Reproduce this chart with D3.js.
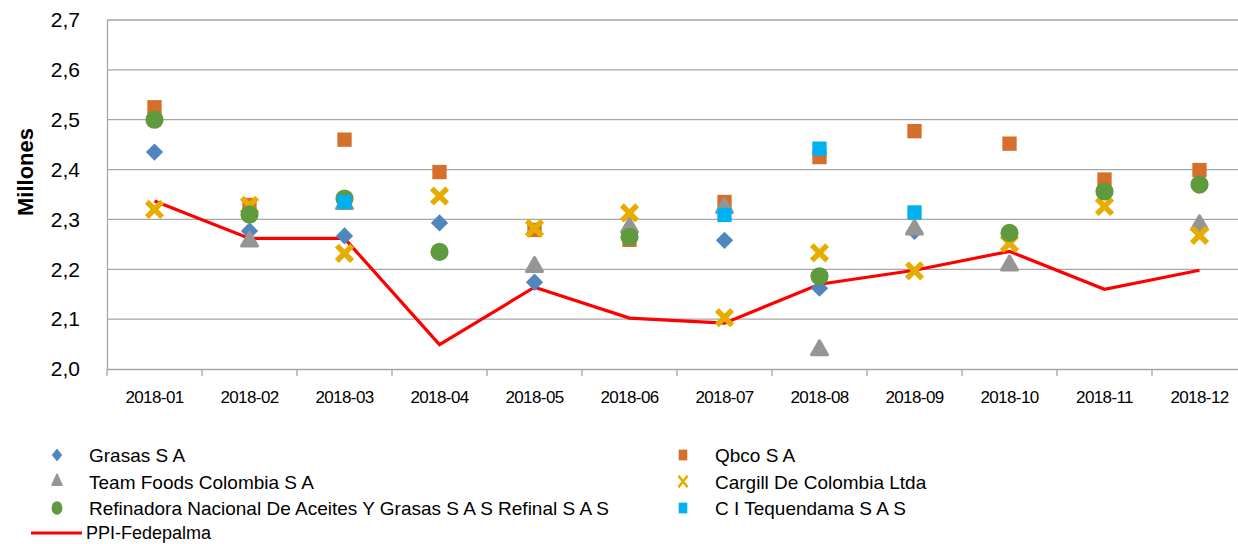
<!DOCTYPE html>
<html>
<head>
<meta charset="utf-8">
<script src="https://cdn.jsdelivr.net/npm/d3@7"></script>
<style>
  body { margin: 0; background: #fff; }
  svg { display: block; font-family: 'Liberation Sans', Arial, sans-serif; }
  .grid line { stroke: #a6a6a6; stroke-width: 1.3; }
</style>
</head>
<body>
<svg id="chart" width="1238" height="544"></svg>
<script>
// months on the x axis
const months = ['2018-01', '2018-02', '2018-03', '2018-04', '2018-05', '2018-06',
  '2018-07', '2018-08', '2018-09', '2018-10', '2018-11', '2018-12'];
const yTicks = [2.0, 2.1, 2.2, 2.3, 2.4, 2.5, 2.6, 2.7];

// values in millions, null = no marker that month
const grasas = [2.435, 2.277, 2.267, 2.293, 2.174, null, 2.258, 2.162, 2.276, null, 2.362, 2.282];
const qbco = [2.525, 2.329, 2.460, 2.395, 2.279, 2.259, 2.335, 2.425, 2.477, 2.452, 2.380, 2.399];
const teamFoods = [null, 2.256, 2.331, null, 2.205, 2.284, 2.323, 2.038, 2.280, 2.208, null, 2.289];
const cargill = [2.320, 2.328, 2.232, 2.347, 2.282, 2.313, 2.103, 2.233, 2.197, 2.252, 2.326, 2.268];
const refinal = [2.500, 2.310, 2.342, 2.235, null, 2.265, null, 2.186, null, 2.273, 2.356, 2.370];
const tequendama = [null, null, 2.335, null, null, null, 2.309, 2.442, 2.314, null, null, null];
const ppi = [2.337, 2.262, 2.262, 2.049, 2.164, 2.102, 2.092, 2.170, 2.198, 2.236, 2.160, 2.198];

const series = [
  { name: 'Grasas S A', values: grasas, shape: 'diamond', color: '#4f86bd' },
  { name: 'Qbco S A', values: qbco, shape: 'square', color: '#d56f2b' },
  { name: 'Team Foods Colombia S A', values: teamFoods, shape: 'triangle', color: '#959595' },
  { name: 'Cargill De Colombia Ltda', values: cargill, shape: 'cross', color: '#e6ad00' },
  { name: 'Refinadora Nacional De Aceites Y Grasas S A S Refinal S A S', values: refinal, shape: 'circle', color: '#5f9a3d' },
  { name: 'C I Tequendama S A S', values: tequendama, shape: 'square', color: '#00b0f0' }
];

const svg = d3.select('#chart');
const x = d3.scaleBand().domain(months).range([107, 1247]);
const y = d3.scaleLinear().domain([2.0, 2.7]).range([369, 20]);
const fmt = d => d3.format('.1f')(d).replace('.', ',');

// gridlines
svg.append('g').attr('class', 'grid')
  .selectAll('line').data(yTicks.slice(1)).join('line')
  .attr('x1', 107).attr('x2', 1247)
  .attr('y1', d => y(d)).attr('y2', d => y(d));

// y axis
const yAxis = svg.append('g').attr('transform', 'translate(107,0)')
  .call(d3.axisLeft(y).tickValues(yTicks).tickFormat(fmt).tickSize(0).tickPadding(27));
yAxis.select('.domain').attr('stroke', '#a6a6a6').attr('stroke-width', 1.3);
yAxis.selectAll('text').attr('font-size', 21).attr('fill', '#000');

// x axis
const xAxis = svg.append('g').attr('transform', 'translate(0,369)')
  .call(d3.axisBottom(x).tickSize(0).tickPadding(22));
xAxis.select('.domain').attr('stroke', '#a6a6a6').attr('stroke-width', 1.3);
xAxis.selectAll('text').attr('font-size', 17).attr('letter-spacing', -0.6).attr('fill', '#000');
// tick marks between the categories
xAxis.selectAll('.sep').data(months).join('line')
  .attr('class', 'sep')
  .attr('x1', d => x(d)).attr('x2', d => x(d))
  .attr('y1', 0).attr('y2', 7)
  .attr('stroke', '#a6a6a6').attr('stroke-width', 1.3);

svg.append('text')
  .attr('transform', 'translate(33,172) rotate(-90)')
  .attr('text-anchor', 'middle')
  .attr('font-size', 22).attr('font-weight', 'bold')
  .text('Millones');

const symbols = {
  diamond: d3.symbol().type(d3.symbolDiamond2).size(190),
  square: d3.symbol().type(d3.symbolSquare).size(205),
  triangle: d3.symbol().type(d3.symbolTriangle).size(110),
  cross: d3.symbol().type(d3.symbolX).size(155),
  circle: d3.symbol().type(d3.symbolCircle).size(260)
};

function drawMarker(sel, s) {
  if (s.shape === 'cross') {
    sel.attr('d', symbols.cross()).attr('fill', 'none')
      .attr('stroke', s.color).attr('stroke-width', 5.5);
  } else if (s.shape === 'triangle') {
    sel.attr('d', symbols.triangle()).attr('fill', s.color)
      .attr('stroke', s.color).attr('stroke-width', 3).attr('stroke-linejoin', 'round');
  } else {
    sel.attr('d', symbols[s.shape]()).attr('fill', s.color);
  }
}

// PPI line
const line = d3.line().x((d, i) => x(months[i]) + x.bandwidth() / 2).y(d => y(d));
svg.append('path').datum(ppi)
  .attr('d', line).attr('fill', 'none')
  .attr('stroke', '#ff0000').attr('stroke-width', 3.2);

// scatter markers
series.forEach(s => {
  const pts = s.values.map((v, i) => ({ v, m: months[i] })).filter(d => d.v != null);
  svg.append('g').selectAll('path').data(pts).join('path')
    .attr('transform', d => `translate(${x(d.m) + x.bandwidth() / 2},${y(d.v)})`)
    .call(sel => drawMarker(sel, s));
});

// legend
const legendItems = series.map((s, i) => ({
  ...s, lx: i % 2 === 0 ? 57 : 683, ly: 455 + Math.floor(i / 2) * 26.5
}));
const legend = svg.append('g').attr('font-size', 19);
legendItems.forEach(s => {
  const g = legend.append('g').attr('transform', `translate(${s.lx},${s.ly})`);
  const mk = g.append('path');
  drawMarker(mk, s);
  mk.attr('transform', 'scale(0.6,0.75)');
  if (s.shape === 'cross') mk.attr('stroke-width', 4);
  g.append('text').attr('x', 32).attr('y', 7).text(s.name);
});
const ppiLeg = legend.append('g').attr('transform', 'translate(0,533)');
ppiLeg.append('line').attr('x1', 31).attr('x2', 82)
  .attr('stroke', '#ff0000').attr('stroke-width', 3.2);
ppiLeg.append('text').attr('x', 86).attr('y', 6).attr('font-size', 18).text('PPI-Fedepalma');
</script>
</body>
</html>
